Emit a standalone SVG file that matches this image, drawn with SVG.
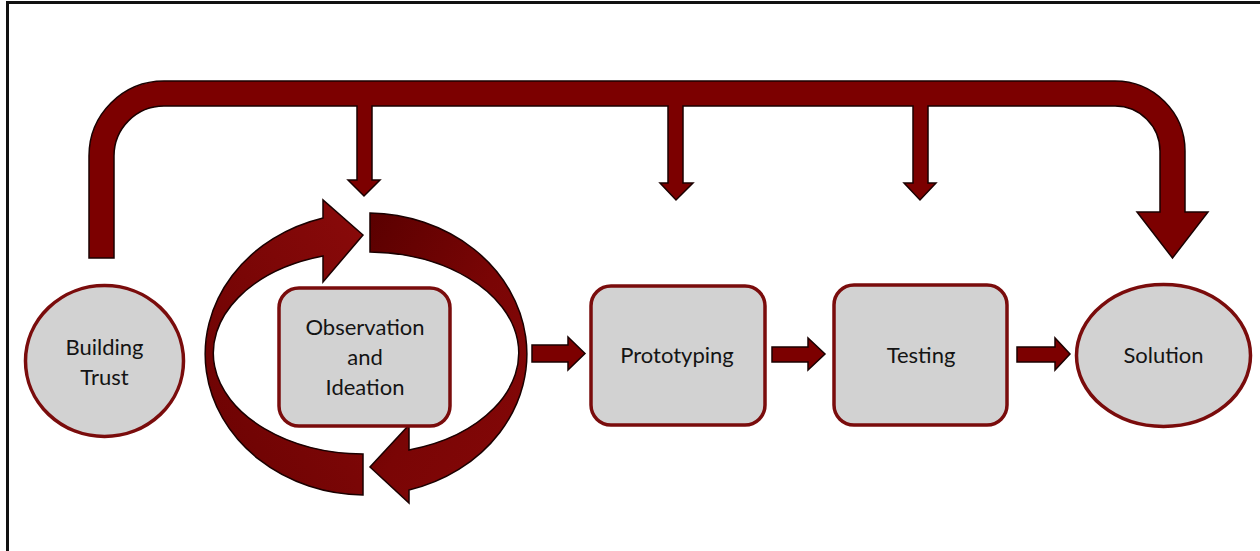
<svg xmlns="http://www.w3.org/2000/svg" width="1260" height="551" viewBox="0 0 1260 551">
<defs>
<style>
.node{fill:#d2d2d2;stroke:#7a0c0c;stroke-width:3.5}
.lbl{font-family:Lato,"Open Sans","Liberation Sans",sans-serif;font-size:22px;fill:#141414;text-anchor:middle}
.arr{fill:#7c0000;stroke:#1a0000;stroke-width:1.5;stroke-linejoin:miter}
</style>
<linearGradient id="gB" x1="0" y1="0" x2="1" y2="1">
<stop offset="0" stop-color="#5a0000"/>
<stop offset="0.5" stop-color="#7a0505"/>
<stop offset="1" stop-color="#850808"/>
</linearGradient>
<linearGradient id="gA" x1="0" y1="1" x2="1" y2="0">
<stop offset="0" stop-color="#6a0202"/>
<stop offset="1" stop-color="#8a0a0a"/>
</linearGradient>
</defs>
<rect width="1260" height="551" fill="#ffffff"/>
<g id="frame" fill="none" stroke="#111" stroke-width="3">
<path d="M7.5,551 L7.5,2.5 L1260,2.5"/>
</g>
<g id="connectors">
<path class="arr" d="M89,258 L89,156 A75,75 0 0 1 164,81 L1115,81 A70,70 0 0 1 1185,151 L1185,212 L1208,212 L1172.5,258 L1137,212 L1160,212 L1160,151 A45,45 0 0 0 1115,106 L928,106 L928,183 L936,183 L920,200 L904,183 L913,183 L913,106 L683,106 L683,183 L693,183 L676,200 L660,183 L668,183 L668,106 L372,106 L372,180 L380,180 L364,196 L348,180 L357,180 L357,106 L164,106 A50,50 0 0 0 114,156 L114,258 Z"/>
<path class="arr" d="M532,345 L568,345 L568,337 L585,353.5 L568,370 L568,362 L532,362 Z"/>
<path class="arr" d="M772,347 L808,347 L808,338 L825,354 L808,370 L808,362 L772,362 Z"/>
<path class="arr" d="M1017,347 L1055,347 L1055,338 L1070,354 L1055,370 L1055,362 L1017,362 Z"/>
</g>
<g id="cycle">
<path d="M370,213 A160,141 0 0 1 409,490 L409,503 L370,467 L409,425 L409,450 A152,101 0 0 0 370,252 Z" fill="url(#gB)" stroke="#1a0000" stroke-width="1.5"/>
<path d="M363,495 A160,141 0 0 1 323,218 L323,200 L363,235 L323,282 L323,256 A152,101 0 0 0 363,454 Z" fill="url(#gA)" stroke="#1a0000" stroke-width="1.5"/>
</g>
<g id="building-trust">
<ellipse class="node" cx="104.5" cy="361" rx="79" ry="75.5"/>
<text class="lbl" x="104.5" y="355">Building</text>
<text class="lbl" x="104.5" y="385">Trust</text>
</g>
<g id="observation">
<rect class="node" x="279" y="288" width="171" height="138" rx="20"/>
<text class="lbl" x="365" y="335">Observation</text>
<text class="lbl" x="365" y="365">and</text>
<text class="lbl" x="365" y="395">Ideation</text>
</g>
<g id="prototyping">
<rect class="node" x="591" y="286" width="174" height="139" rx="20"/>
<text class="lbl" x="677" y="363">Prototyping</text>
</g>
<g id="testing">
<rect class="node" x="834" y="285" width="173" height="140" rx="20"/>
<text class="lbl" x="921" y="363">Testing</text>
</g>
<g id="solution">
<ellipse class="node" cx="1163.5" cy="355.5" rx="87" ry="71"/>
<text class="lbl" x="1163.5" y="363">Solution</text>
</g>
</svg>
